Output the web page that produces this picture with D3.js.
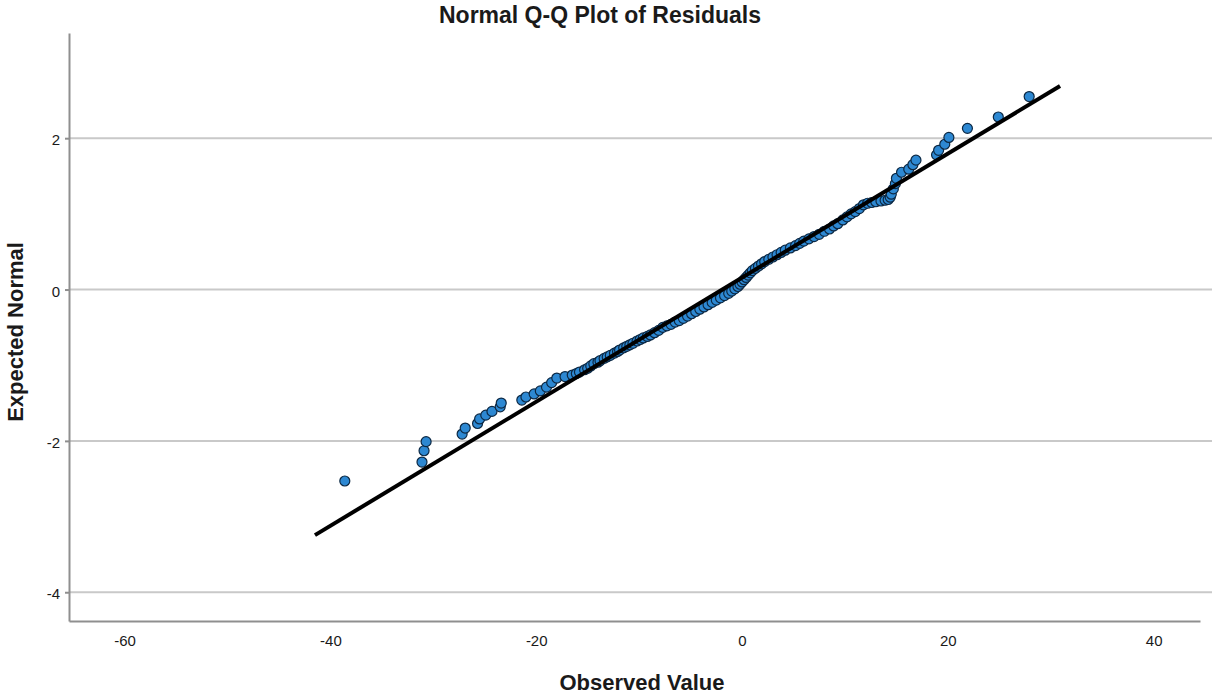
<!DOCTYPE html>
<html>
<head>
<meta charset="utf-8">
<script src="https://cdn.jsdelivr.net/npm/d3@7"></script>
<style>
  body { margin: 0; background: #fff; }
  svg text { font-family: "Liberation Sans", Arial, sans-serif; fill: #1a1a1a; }
  .grid line { stroke: #c9c9c9; stroke-width: 2; }
  .axis path, .axis line { stroke: #8f8f8f; stroke-width: 2; }
  .axis text { font-size: 15px; }
  .qq-line { stroke: #000; stroke-width: 4; fill: none; }
  .pt { fill: #2d88d2; stroke: #0c2843; stroke-width: 1.2; }
</style>
</head>
<body>
<div id="chart"></div>
<script>
// observed residuals (x) and expected normal values (y)
const observed = [
  -38.6, -31.1, -30.9, -30.7, -27.2, -26.9, -25.7, -25.5, -24.9, -24.3, -23.5, -23.4,
  -21.4, -21.0, -20.2, -19.6, -19.0, -18.5, -18.0, -17.2, -16.5, -16.1, -15.8, -15.3,
  -15.0, -14.7, -14.4, -14.0, -13.8, -13.4, -13.1, -12.8, -12.4, -12.1, -11.9, -11.5,
  -11.2, -10.9, -10.6, -10.2, -9.9, -9.6, -9.2, -8.9, -8.5, -8.1, -7.7, -7.3,
  -6.9, -6.5, -6.1, -5.7, -5.3, -4.9, -4.5, -4.1, -3.7, -3.3, -2.9, -2.5,
  -2.1, -1.7, -1.3, -1.0, -0.7, -0.4, -0.2, 0.0, 0.2, 0.4, 0.6, 0.8,
  1.0, 1.3, 1.6, 1.9, 2.2, 2.6, 3.0, 3.4, 3.8, 4.2, 4.7, 5.2,
  5.6, 6.0, 6.5, 7.0, 7.5, 8.0, 8.5, 8.9, 9.3, 9.8, 10.2, 10.6,
  11.0, 11.4, 11.8, 12.2, 12.6, 13.0, 13.5, 13.9, 14.2, 14.4, 14.5, 14.7,
  14.9, 15.0, 15.5, 16.2, 16.6, 16.9, 18.9, 19.1, 19.7, 20.1, 21.9, 24.9,
  27.9
];
const expected = [
  -2.53, -2.28, -2.13, -2.01, -1.91, -1.83, -1.77, -1.71, -1.66, -1.61, -1.55, -1.50,
  -1.46, -1.42, -1.38, -1.34, -1.29, -1.23, -1.17, -1.15, -1.13, -1.11, -1.09, -1.06,
  -1.04, -1.01, -0.98, -0.96, -0.94, -0.91, -0.89, -0.87, -0.84, -0.82, -0.80, -0.77,
  -0.75, -0.73, -0.71, -0.68, -0.66, -0.64, -0.62, -0.60, -0.57, -0.54, -0.50, -0.48,
  -0.46, -0.43, -0.41, -0.38, -0.35, -0.32, -0.29, -0.26, -0.23, -0.20, -0.17, -0.14,
  -0.11, -0.08, -0.05, -0.02, 0.01, 0.04, 0.07, 0.10, 0.13, 0.16, 0.19, 0.22,
  0.25, 0.28, 0.31, 0.34, 0.37, 0.40, 0.43, 0.46, 0.49, 0.52, 0.55, 0.58,
  0.61, 0.64, 0.67, 0.70, 0.73, 0.77, 0.80, 0.84, 0.87, 0.92, 0.96, 1.00,
  1.03, 1.07, 1.12, 1.14, 1.15, 1.16, 1.17, 1.18, 1.19, 1.22, 1.26, 1.33,
  1.40, 1.47, 1.55, 1.59, 1.65, 1.71, 1.78, 1.84, 1.92, 2.01, 2.13, 2.28,
  2.55
];
// reference line end points
const lineX = [-41.5, 30.9];
const lineY = [-3.245, 2.69];

const xTicks = [-60, -40, -20, 0, 20, 40];
const yTicks = [-4, -2, 0, 2];

const W = 1212, H = 696;
const plotLeft = 69, plotRight = 1200, plotTop = 33, plotBottom = 621;

const svg = d3.select("#chart").append("svg")
  .attr("width", W).attr("height", H);

const x = d3.scaleLinear().domain([-65.4, 44.5]).range([plotLeft, plotRight]);
const y = d3.scaleLinear().domain([-4.38, 3.39]).range([plotBottom, plotTop]);

//gridlines
svg.append("g").attr("class", "grid")
  .selectAll("line").data(yTicks).join("line")
  .attr("x1", plotLeft + 1).attr("x2", W)
  .attr("y1", d => y(d)).attr("y2", d => y(d));

//axes (plain hyphen minus like the original)
const fmt = d => String(d);
svg.append("g").attr("class", "axis")
  .attr("transform", `translate(${plotLeft},0)`)
  .call(d3.axisLeft(y).tickValues(yTicks).tickFormat(fmt).tickSize(4).tickSizeOuter(0).tickPadding(5))
  .selectAll("text").attr("dy", "0.45em");

svg.append("g").attr("class", "axis")
  .attr("transform", `translate(0,${plotBottom})`)
  .call(d3.axisBottom(x).tickValues(xTicks).tickFormat(fmt).tickSize(0).tickSizeOuter(0).tickPadding(14));

//titles
svg.append("text").attr("x", 600).attr("y", 23)
  .attr("text-anchor", "middle").style("font-size", "23px").style("font-weight", "bold")
  .text("Normal Q-Q Plot of Residuals");

svg.append("text").attr("x", 642).attr("y", 690)
  .attr("text-anchor", "middle").style("font-size", "22px").style("font-weight", "bold")
  .text("Observed Value");

svg.append("text").attr("transform", "translate(23,332) rotate(-90)")
  .attr("text-anchor", "middle").style("font-size", "22px").style("font-weight", "bold")
  .text("Expected Normal");

//points
const pts = observed.map((v, i) => ({ obs: v, exp: expected[i] }));
svg.append("g").selectAll("circle").data(pts).join("circle")
  .attr("class", "pt")
  .attr("cx", d => x(d.obs)).attr("cy", d => y(d.exp)).attr("r", 5);

//line
const line = d3.line().x(d => x(d[0])).y(d => y(d[1]));
svg.append("path")
  .datum(lineX.map((v, i) => [v, lineY[i]]))
  .attr("class", "qq-line")
  .attr("d", line);
</script>
</body>
</html>
